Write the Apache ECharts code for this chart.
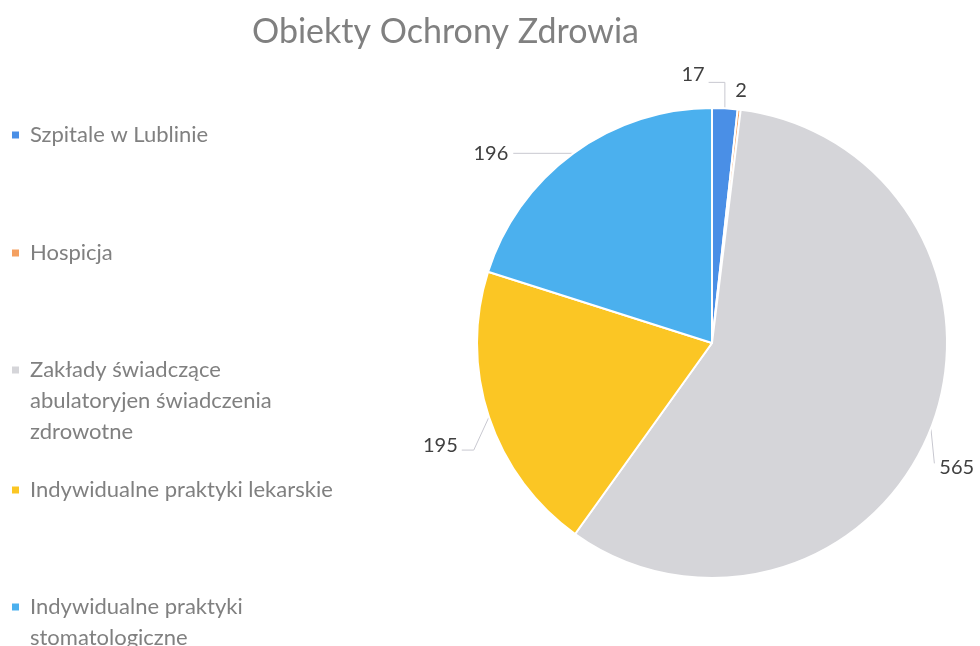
<!DOCTYPE html>
<html>
<head>
<meta charset="utf-8">
<script src="https://cdn.jsdelivr.net/npm/echarts@6/dist/echarts.min.js"></script>
<style>
  html, body { margin: 0; padding: 0; background: #fff; }
  #chart { width: 980px; height: 646px; }
</style>
</head>
<body>
<div id="chart"></div>
<script>
// data
const categories = [
    "Szpitale w Lublinie",
    "Hospicja",
    "Zakłady świadczące abulatoryjen świadczenia zdrowotne",
    "Indywidualne praktyki lekarskie",
    "Indywidualne praktyki stomatologiczne"
];
const values = [17, 2, 565, 195, 196];
const legendLabels = [
    "Szpitale w Lublinie",
    "Hospicja",
    "Zakłady świadczące\nabulatoryjen świadczenia\nzdrowotne",
    "Indywidualne praktyki lekarskie",
    "Indywidualne praktyki\nstomatologiczne"
];
const colors = ["#4a8fe6", "#f4a060", "#d5d5d9", "#fbc624", "#4bb0ee"];

const font = "Lato";
const lineH = 31;
// y of the first text line of each legend entry
const legendLineY = [135, 253, 370, 490, 607];
// label nudges (dx, dy) to get close to the excel placement
const labelShift = [[-69, -24], [-30, -9], [-8, 36], [15, 17], [0, 0]];

const chart = echarts.init(document.getElementById("chart"));

// one legend per item so the uneven excel spacing can be kept
const legends = categories.map((name, i) => {
    const n = legendLabels[i].split("\n").length;
    // empty lines in front so the icon lines up with the first text line
    const txt = "\n".repeat(n - 1) + legendLabels[i];
    return {
        data: [name],
        left: 10,
        top: legendLineY[i] - (2 * n - 1) * lineH / 2,
        itemWidth: 9,
        itemHeight: 9,
        itemGap: 0,
        padding: 0,
        icon: "rect",
        selectedMode: false,
        formatter: () => txt,
        textStyle: {
            fontFamily: font,
            fontSize: 22,
            color: "#808080",
            lineHeight: lineH,
            padding: [0, 0, 0, 5]
        }
    };
});

// move labels a bit and redraw their leader lines from the slice edge point
function layoutLabel(p) {
    const i = p.dataIndex;
    const dx = labelShift[i][0], dy = labelShift[i][1];
    const r = p.labelRect;
    const pts = p.labelLinePoints;
    if (!pts || !pts.length) return { dx: dx, dy: dy };
    const x0 = r.x + dx, y0 = r.y + dy;
    const midY = y0 + r.height / 2;
    const s = pts[0];
    let line = pts;
    if (i === 0) {
        line = [s, [s[0], y0 + r.height - 2], [x0 + r.width + 4, y0 + r.height - 2]];
    } else if (i === 2) {
        line = [s, [x0 - 5, midY - 4]];
    } else if (i === 3) {
        line = [s, [x0 + r.width + 16, midY + 5], [x0 + r.width + 4, midY + 5]];
    }
    return { dx: dx, dy: dy, labelLinePoints: line };
}

chart.setOption({
    animation: false,
    color: colors,
    title: {
        text: "Obiekty Ochrony Zdrowia",
        left: 247,
        top: 10,
        textStyle: {
            fontFamily: font,
            fontSize: 34,
            fontWeight: "normal",
            color: "#808080"
        }
    },
    legend: legends,
    series: [{
        type: "pie",
        center: [712, 343],
        radius: 235,
        startAngle: 90,
        clockwise: true,
        avoidLabelOverlap: false,
        itemStyle: {
            borderColor: "#fff",
            borderWidth: 2
        },
        label: {
            show: true,
            position: "outside",
            formatter: "{c}",
            fontFamily: font,
            fontSize: 20,
            color: "#404040"
        },
        labelLine: {
            show: true,
            length: 10,
            length2: 20,
            lineStyle: { color: "#c8c8d0", width: 1 }
        },
        labelLayout: layoutLabel,
        data: categories.map((name, i) => {
            const item = { name: name, value: values[i] };
            if (i === 1) item.labelLine = { show: false };
            if (i === 4) item.labelLine = { length: 0, length2: 60 };
            if (i === 3) item.labelLine = { length: 35, length2: 8 };
            if (i === 2) item.labelLine = { length: 8, length2: 4 };
            return item;
        })
    }]
});
</script>
</body>
</html>
